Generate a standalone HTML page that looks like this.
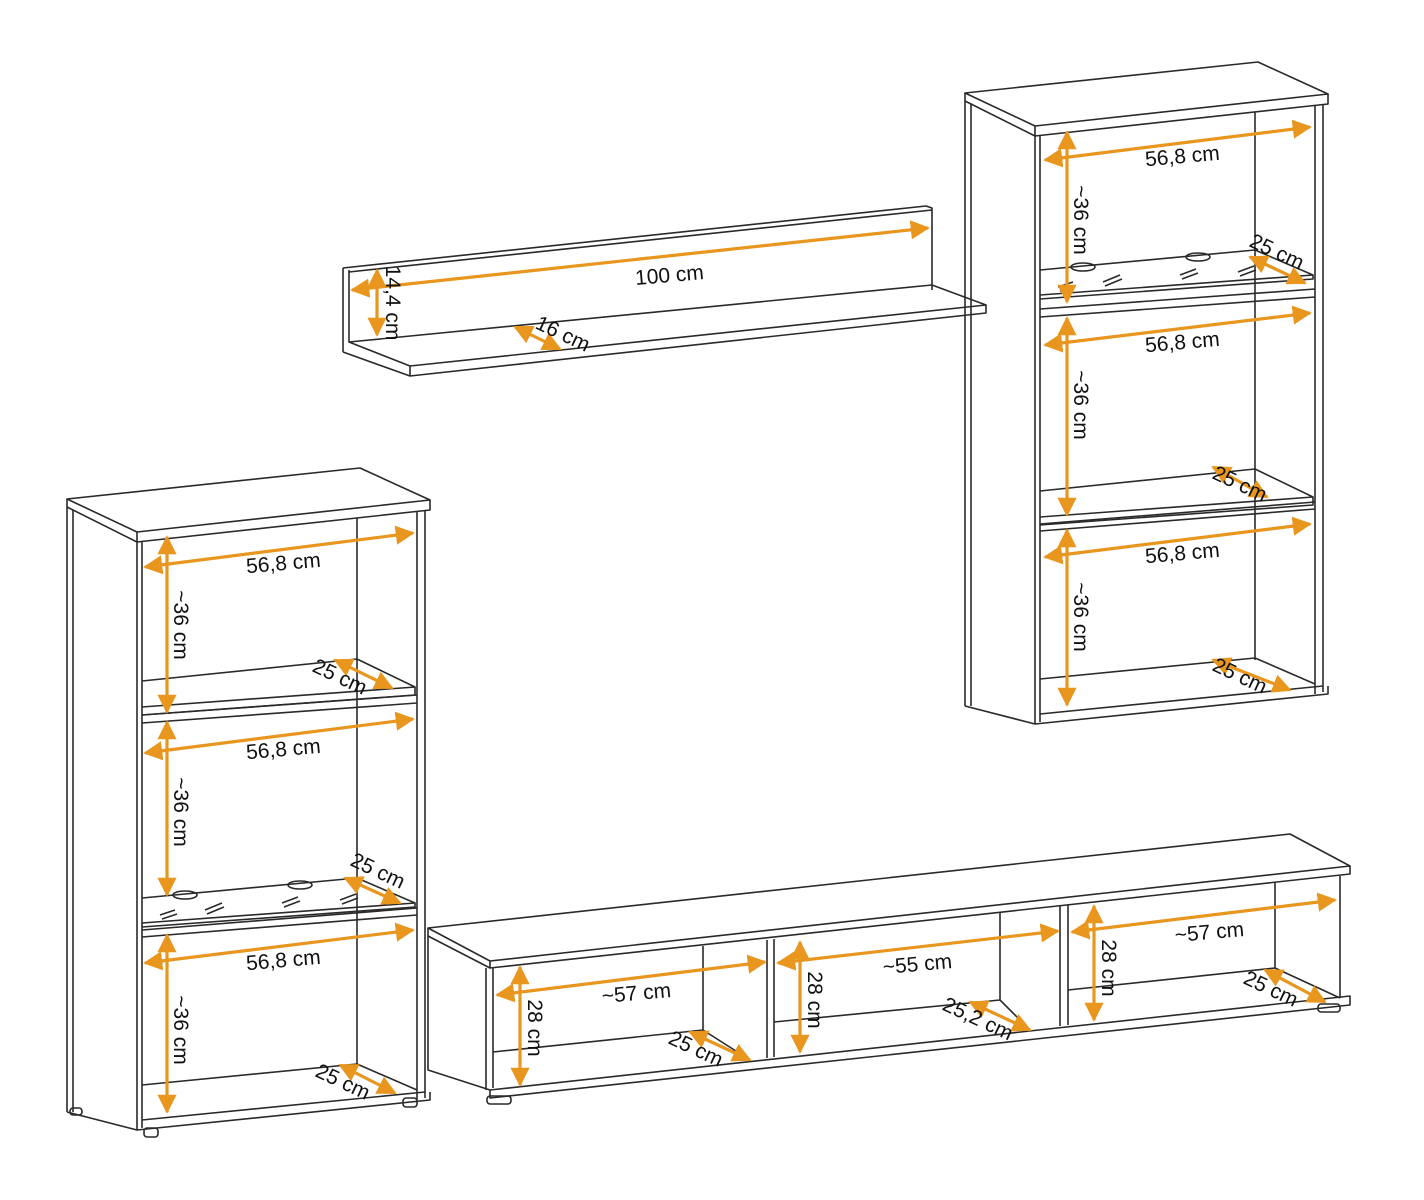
<!DOCTYPE html>
<html><head><meta charset="utf-8"><style>
html,body{margin:0;padding:0;background:#fff}
svg{display:block}
text{font-family:"Liberation Sans",sans-serif;font-size:21px;fill:#111}
.l{fill:none;stroke:#2a2a2a;stroke-width:1.6;stroke-linejoin:round}
.a{stroke:#e8961e;stroke-width:3.2;fill:none}
</style></head><body>
<svg width="1424" height="1200" viewBox="0 0 1424 1200">
<defs>
<marker id="ah" viewBox="0 0 10 10" refX="9" refY="5" markerWidth="6" markerHeight="6" orient="auto-start-reverse">
<path d="M0,0 L10,5 L0,10 Z" fill="#e8961e"/></marker>
<g id="body" class="l">
<path d="M67,499 L360,468 L430,500 L137,532 Z"/>
<path d="M137,532 L137,542 L430,510 L430,500"/>
<path d="M67,499 L67,507 L137,542"/>
<path d="M67,507 L67,1112 M73,510 L73,1112"/>
<path d="M137,542 L137,1130 M142,541 L142,1128"/>
<path d="M417,512 L417,1100 M425,510 L425,1098"/>
<path d="M357,518 L357,1066"/>
<path d="M67,1112 L137,1130 L430,1100 L430,1092 M142,1120 L425,1092 M142,1085 L357,1064 L417,1090"/>
<path d="M142,715 L417,695 M142,723 L417,703"/>
<path d="M142,930 L417,908 M142,937 L417,915"/>
</g>
<g id="adj" class="l">
<path d="M142,681 L357,659 L415,687 L415,695 L142,715"/>
<path d="M142,707 L415,687"/>
</g>
<g id="glass" class="l">
<path d="M142,898 L357,878 L415,903 L415,907 L142,927"/>
<path d="M142,923 L415,903"/>
<ellipse cx="185" cy="895" rx="12" ry="4"/>
<ellipse cx="300" cy="885" rx="12" ry="4"/>
<path d="M160,915 L175,910 M162,919 L177,914 M205,910 L222,903 M207,914 L224,907 M282,903 L298,897 M284,907 L300,901 M340,900 L356,894 M342,904 L358,898"/>
</g>
</defs>

<use href="#body"/>
<use href="#adj"/>
<use href="#glass"/>
<g class="l"><rect x="144" y="1128" width="14" height="9" rx="3"/><rect x="403" y="1098" width="14" height="9" rx="3"/><rect x="70" y="1108" width="12" height="7" rx="3"/></g>

<use href="#body" transform="translate(898,-406)"/>
<use href="#glass" transform="translate(898,-628)"/>
<use href="#adj" transform="translate(898,-190)"/>

<g class="l">
<path d="M343,268 L926,206 L932,208 L932,290"/>
<path d="M343,268 L343,352 M349,270 L349,342"/>
<path d="M349,272 L932,210"/>
<path d="M349,342 L932,285 L986,305 L410,366 Z"/>
<path d="M343,352 L410,376 L986,313 L986,305 M410,366 L410,376"/>
</g>

<g class="l">
<path d="M428,928 L1290,834 L1350,866 L490,961 Z"/>
<path d="M490,961 L490,968 L1350,874 L1350,866"/>
<path d="M428,928 L428,936 L490,968"/>
<path d="M428,936 L428,1070 L490,1090 L490,1098 L1350,1005 L1350,996 L490,1090"/>
<path d="M486,968 L486,1090 M493,967 L493,1088"/>
<path d="M493,1052 L703,1030 L750,1060 M703,946 L703,1030"/>
<path d="M767,940 L767,1058 M774,939 L774,1057"/>
<path d="M774,1022 L1000,1000 L1030,1030 M1000,912 L1000,1000"/>
<path d="M1060,906 L1060,1026 M1068,905 L1068,1025"/>
<path d="M1068,990 L1275,968 L1340,998 M1275,882 L1275,968"/>
<path d="M1340,876 L1340,998"/>
<rect x="487" y="1096" width="24" height="8" rx="3"/>
<rect x="1318" y="1004" width="22" height="8" rx="3"/>
</g>

<g class="a">
<path d="M145,567 L413,533" marker-start="url(#ah)" marker-end="url(#ah)"/>
<path d="M167,537 L167,712" marker-start="url(#ah)" marker-end="url(#ah)"/>
<path d="M335,660 L392,688" marker-start="url(#ah)" marker-end="url(#ah)"/>
<path d="M145,753 L413,719" marker-start="url(#ah)" marker-end="url(#ah)"/>
<path d="M167,722 L167,895" marker-start="url(#ah)" marker-end="url(#ah)"/>
<path d="M345,878 L400,903" marker-start="url(#ah)" marker-end="url(#ah)"/>
<path d="M145,963 L413,930" marker-start="url(#ah)" marker-end="url(#ah)"/>
<path d="M167,935 L167,1112" marker-start="url(#ah)" marker-end="url(#ah)"/>
<path d="M340,1065 L395,1093" marker-start="url(#ah)" marker-end="url(#ah)"/>

<path d="M1045,160 L1310,127" marker-start="url(#ah)" marker-end="url(#ah)"/>
<path d="M1067,132 L1067,302" marker-start="url(#ah)" marker-end="url(#ah)"/>
<path d="M1250,257 L1305,283" marker-start="url(#ah)" marker-end="url(#ah)"/>
<path d="M1045,345 L1310,313" marker-start="url(#ah)" marker-end="url(#ah)"/>
<path d="M1067,318 L1067,515" marker-start="url(#ah)" marker-end="url(#ah)"/>
<path d="M1213,467 L1267,497" marker-start="url(#ah)" marker-end="url(#ah)"/>
<path d="M1045,557 L1310,524" marker-start="url(#ah)" marker-end="url(#ah)"/>
<path d="M1067,530 L1067,705" marker-start="url(#ah)" marker-end="url(#ah)"/>
<path d="M1213,660 L1290,690" marker-start="url(#ah)" marker-end="url(#ah)"/>

<path d="M352,290 L928,228" marker-start="url(#ah)" marker-end="url(#ah)"/>
<path d="M377,270 L377,335" marker-start="url(#ah)" marker-end="url(#ah)"/>
<path d="M515,327 L560,349" marker-start="url(#ah)" marker-end="url(#ah)"/>

<path d="M497,995 L765,962" marker-start="url(#ah)" marker-end="url(#ah)"/>
<path d="M520,967 L520,1085" marker-start="url(#ah)" marker-end="url(#ah)"/>
<path d="M690,1032 L750,1060" marker-start="url(#ah)" marker-end="url(#ah)"/>
<path d="M778,963 L1058,931" marker-start="url(#ah)" marker-end="url(#ah)"/>
<path d="M800,942 L800,1052" marker-start="url(#ah)" marker-end="url(#ah)"/>
<path d="M970,1002 L1030,1030" marker-start="url(#ah)" marker-end="url(#ah)"/>
<path d="M1072,932 L1335,900" marker-start="url(#ah)" marker-end="url(#ah)"/>
<path d="M1094,906 L1094,1020" marker-start="url(#ah)" marker-end="url(#ah)"/>
<path d="M1265,970 L1325,1002" marker-start="url(#ah)" marker-end="url(#ah)"/>
</g>

<g>
<text x="284" y="570" text-anchor="middle" transform="rotate(-5 284 570)">56,8 cm</text>
<text x="284" y="756" text-anchor="middle" transform="rotate(-5 284 756)">56,8 cm</text>
<text x="284" y="967" text-anchor="middle" transform="rotate(-5 284 967)">56,8 cm</text>
<text transform="translate(174,625) rotate(90)" text-anchor="middle">~36 cm</text>
<text transform="translate(174,812) rotate(90)" text-anchor="middle">~36 cm</text>
<text transform="translate(174,1030) rotate(90)" text-anchor="middle">~36 cm</text>
<text transform="translate(337,683) rotate(25)" text-anchor="middle">25 cm</text>
<text transform="translate(375,877) rotate(25)" text-anchor="middle">25 cm</text>
<text transform="translate(340,1088) rotate(25)" text-anchor="middle">25 cm</text>

<text x="1183" y="163" text-anchor="middle" transform="rotate(-5 1183 163)">56,8 cm</text>
<text x="1183" y="349" text-anchor="middle" transform="rotate(-5 1183 349)">56,8 cm</text>
<text x="1183" y="560" text-anchor="middle" transform="rotate(-5 1183 560)">56,8 cm</text>
<text transform="translate(1074,220) rotate(90)" text-anchor="middle">~36 cm</text>
<text transform="translate(1074,405) rotate(90)" text-anchor="middle">~36 cm</text>
<text transform="translate(1074,617) rotate(90)" text-anchor="middle">~36 cm</text>
<text transform="translate(1274,258) rotate(25)" text-anchor="middle">25 cm</text>
<text transform="translate(1237,490) rotate(25)" text-anchor="middle">25 cm</text>
<text transform="translate(1237,682) rotate(25)" text-anchor="middle">25 cm</text>

<text x="670" y="282" text-anchor="middle" transform="rotate(-5 670 282)">100 cm</text>
<text transform="translate(386,303) rotate(90)" text-anchor="middle">14,4 cm</text>
<text transform="translate(560,340) rotate(25)" text-anchor="middle">16 cm</text>

<text x="637" y="1000" text-anchor="middle" transform="rotate(-5 637 1000)">~57 cm</text>
<text x="918" y="971" text-anchor="middle" transform="rotate(-5 918 971)">~55 cm</text>
<text x="1210" y="939" text-anchor="middle" transform="rotate(-5 1210 939)">~57 cm</text>
<text transform="translate(528,1028) rotate(90)" text-anchor="middle">28 cm</text>
<text transform="translate(808,1000) rotate(90)" text-anchor="middle">28 cm</text>
<text transform="translate(1102,968) rotate(90)" text-anchor="middle">28 cm</text>
<text transform="translate(693,1055) rotate(25)" text-anchor="middle">25 cm</text>
<text transform="translate(975,1025) rotate(25)" text-anchor="middle">25,2 cm</text>
<text transform="translate(1268,995) rotate(25)" text-anchor="middle">25 cm</text>
</g>
</svg>
</body></html>
